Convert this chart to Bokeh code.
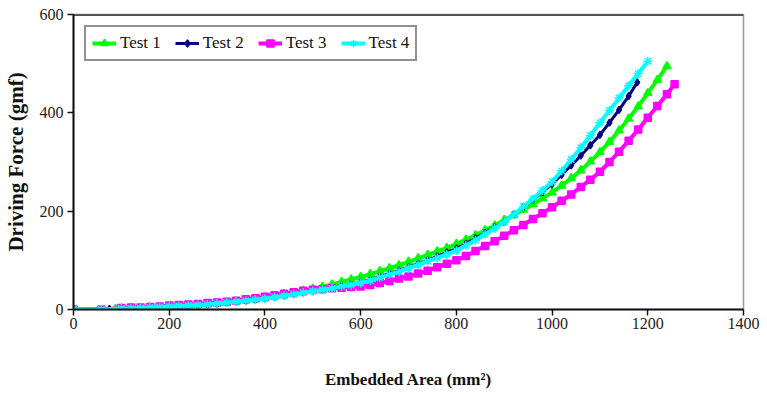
from bokeh.plotting import figure
from bokeh.models import Range1d, Span, FixedTicker
from bokeh.embed import file_html
from bokeh.resources import INLINE

# Embedded area sample positions (mm^2)
area_steps = [100, 120, 140, 160, 180, 200, 220, 240, 260, 280, 300,
              320, 340, 360, 380, 400, 420, 440, 460, 480, 500,
              520, 540, 560, 580, 600, 620, 640, 660, 680, 700,
              720, 740, 760, 780, 800, 820, 840, 860, 880, 900,
              920, 940, 960, 980, 1000, 1020, 1040, 1060, 1080, 1100,
              1120, 1140, 1160, 1180, 1200, 1220, 1240]

# Driving force (gmf) for each test
test1_x = [0, 88] + area_steps
test1_y = [0, 1,
           2, 2, 3, 4, 5, 6, 7, 8, 9, 11, 12,
           14, 16, 19, 21, 24, 27, 31, 34, 38, 42,
           46, 51, 56, 61, 66, 72, 78, 84, 90, 97,
           104, 111, 118, 125, 133, 142, 151, 161, 171, 182,
           192, 203, 214, 226, 238, 252, 267, 283, 301, 320,
           341, 364, 388, 413, 440, 467, 495]

test2_x = [0, 75] + area_steps[:54] + [1178]
test2_y = [0, 1,
           2, 2, 3, 4, 5, 6, 7, 8, 9, 10, 12,
           14, 16, 18, 20, 23, 26, 29, 32, 35, 38,
           41, 44, 48, 51, 55, 61, 67, 73, 79, 86,
           93, 100, 108, 116, 124, 134, 145, 156, 167, 178,
           193, 208, 223, 239, 255, 274, 293, 313, 334, 355,
           380, 406, 434, 462]

test3_x = [0, 58] + area_steps + [1256]
test3_y = [0, 0,
           3, 4, 4, 5, 6, 8, 9, 10, 11, 13, 14,
           16, 18, 21, 23, 26, 29, 32, 35, 38, 40,
           41, 43, 44, 46, 47, 50, 54, 58, 63, 67,
           73, 79, 86, 93, 100, 109, 119, 129, 139, 150,
           161, 172, 184, 196, 208, 221, 234, 249, 264, 280,
           300, 321, 343, 366, 390, 414, 438, 458]

test4_x = [0, 58] + area_steps[:56]
test4_y = [0, 0,
           2, 2, 3, 4, 5, 6, 7, 8, 9, 10, 12,
           14, 16, 18, 20, 22, 25, 28, 31, 34, 37,
           40, 43, 47, 50, 54, 59, 65, 71, 77, 84,
           91, 98, 105, 112, 120, 130, 141, 153, 165, 178,
           193, 209, 225, 242, 260, 282, 305, 329, 354, 380,
           405, 430, 455, 480, 505]

x_ticks = [0, 200, 400, 600, 800, 1000, 1200, 1400]
y_ticks = [0, 200, 400, 600]

# name, x, y, colour, marker, marker size, line width
series = [
    ("Test 1", test1_x, test1_y, "#00FF00", "triangle", 8, 4),
    ("Test 2", test2_x, test2_y, "#000080", "diamond", 7, 3),
    ("Test 3", test3_x, test3_y, "#FF00FF", "square", 7, 4),
    ("Test 4", test4_x, test4_y, "#00FFFF", "asterisk", 9, 4),
]

SERIF = "Liberation Serif"

p = figure(width=767, height=394, output_backend="svg", toolbar_location=None,
           x_range=Range1d(0, 1400), y_range=Range1d(0, 600),
           min_border_left=71, min_border_right=24,
           min_border_top=14, min_border_bottom=85)

p.background_fill_color = "white"
p.border_fill_color = "white"
p.outline_line_color = "#9a9a9a"
p.outline_line_width = 1.5
p.xgrid.grid_line_color = None
p.ygrid.grid_line_color = None

for name, xs, ys, color, marker, size, lw in series:
    p.line(xs, ys, line_color=color, line_width=lw, legend_label=name)
    p.scatter(xs, ys, marker=marker, size=size, fill_color=color,
              line_color=color, line_width=1.5, legend_label=name)

# dark top edge of the plot frame
p.add_layout(Span(location=600, dimension="width", line_color="#222222",
                  line_width=2.5))

p.xaxis.ticker = FixedTicker(ticks=x_ticks)
p.yaxis.ticker = FixedTicker(ticks=y_ticks)

for axes in (p.xaxis, p.yaxis):
    axes.axis_line_color = "#111111"
    axes.axis_line_width = 2
    axes.major_tick_line_color = "#111111"
    axes.major_tick_line_width = 1.5
    axes.major_tick_in = 0
    axes.major_tick_out = 6
    axes.minor_tick_line_color = None
    axes.major_label_text_font = SERIF
    axes.major_label_text_font_style = "normal"
    axes.major_label_text_font_size = "16px"
    axes.major_label_text_color = "#222222"
    axes.axis_label_text_font = SERIF
    axes.axis_label_text_font_style = "bold"
    axes.axis_label_text_color = "#111111"

p.xaxis.axis_label_text_font_size = "17px"
p.yaxis.axis_label_text_font_size = "21px"
p.xaxis.major_label_standoff = 2
p.yaxis.major_label_standoff = 4
p.xaxis.axis_label = "Embedded Area (mm²)"
p.yaxis.axis_label = "Driving Force (gmf)"
p.xaxis.axis_label_standoff = 38
p.yaxis.axis_label_standoff = 9

lg = p.legend[0]
lg.location = "top_left"
lg.orientation = "horizontal"
lg.margin = 11
lg.padding = 6
lg.spacing = 14
lg.glyph_width = 24
lg.glyph_height = 18
lg.label_standoff = 4
lg.label_text_font = SERIF
lg.label_text_font_style = "normal"
lg.label_text_font_size = "17px"
lg.label_text_color = "#111111"
lg.label_height = 18
lg.border_line_color = "#222222"
lg.border_line_width = 2
lg.background_fill_color = "white"
lg.background_fill_alpha = 1.0

open("out.html", "w").write(file_html(p, INLINE))
